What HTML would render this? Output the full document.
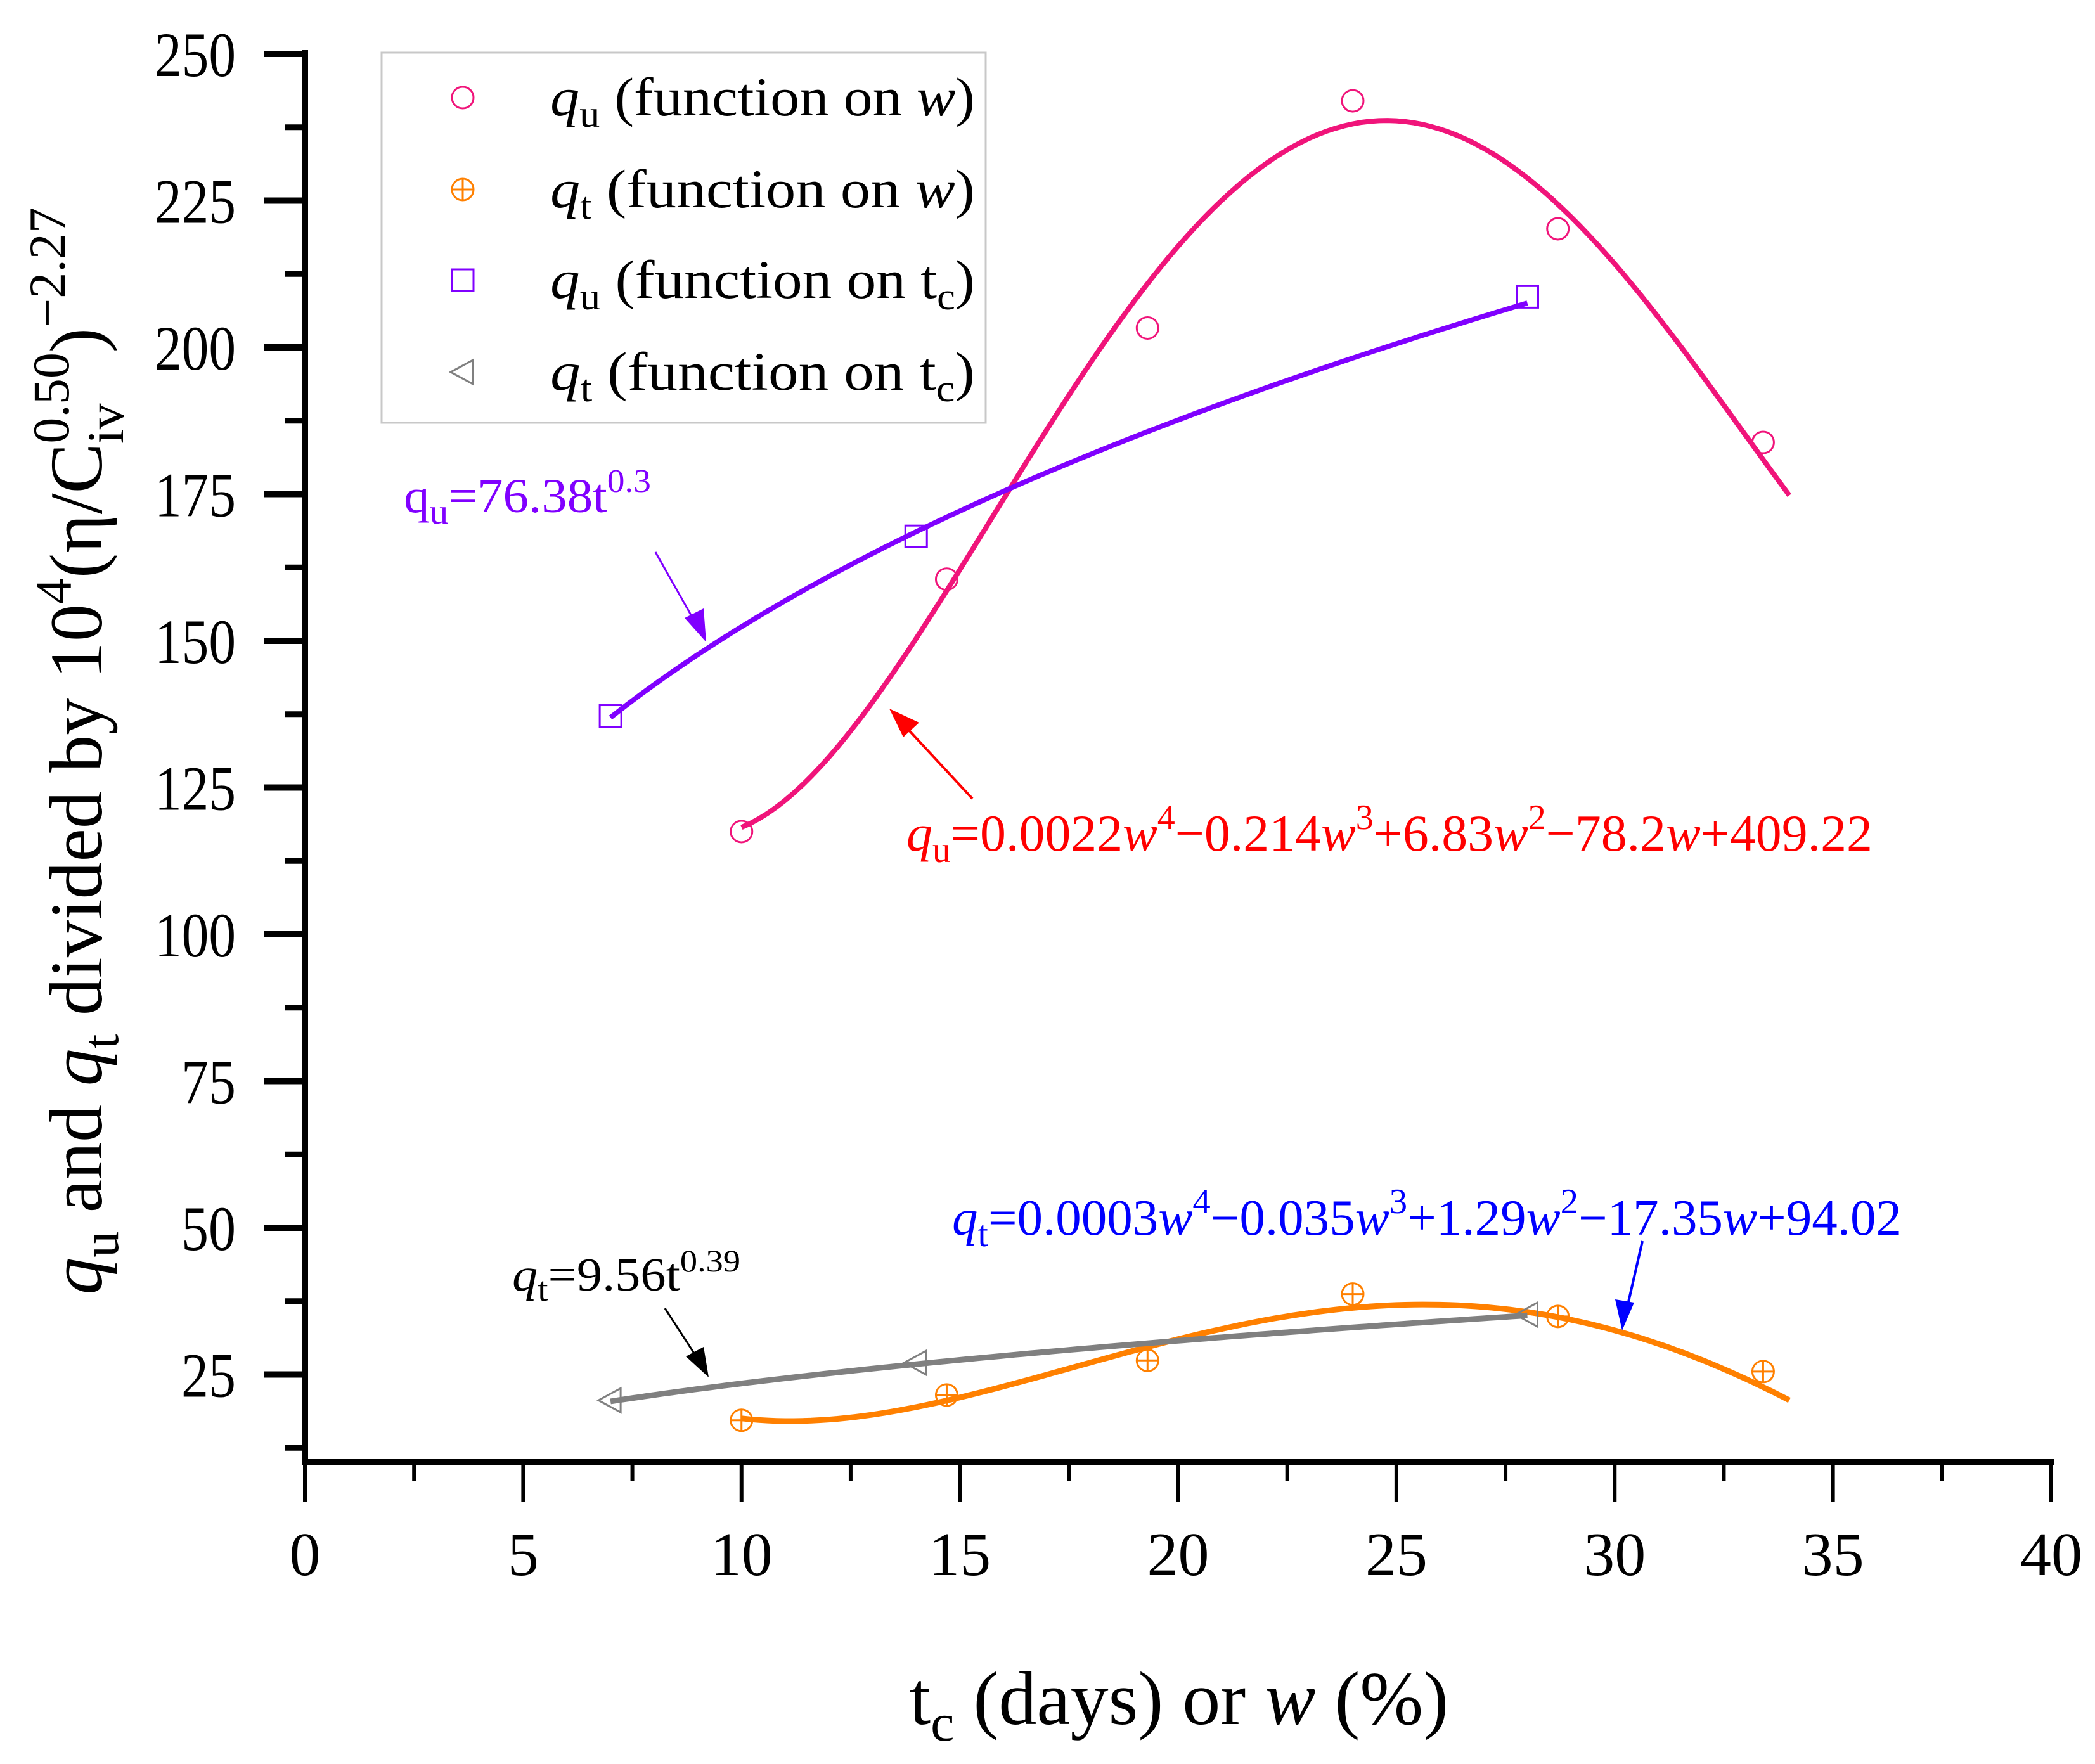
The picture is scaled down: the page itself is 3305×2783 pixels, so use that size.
<!DOCTYPE html>
<html><head><meta charset="utf-8"><style>
html,body{margin:0;padding:0;background:#fff;}
svg{display:block;}
text{font-family:"Liberation Serif",serif;}
</style></head><body>
<svg id="chart" width="3305" height="2783" viewBox="0 0 3305 2783" xmlns="http://www.w3.org/2000/svg">
<g id="axes"></g>
<g id="curves"></g>
<g id="marks"></g>
<g id="legend">
<rect x="602" y="83" width="953" height="584" fill="#fff" stroke="#c8c8c8" stroke-width="3"/>
</g>
<g>
<text x="637" y="808" font-size="76" fill="#8000ff" textLength="390" lengthAdjust="spacingAndGlyphs">q<tspan font-size="56" dy="18">u</tspan><tspan dy="-18">=76.38t</tspan><tspan font-size="52" dy="-32">0.3</tspan></text>
<line x1="1034" y1="871" x2="1104" y2="995" stroke="#8000ff" stroke-width="3"/>
<polygon points="1114,1013 1080,975 1110,960" fill="#8000ff"/>
<text x="1430" y="1342" font-size="82" fill="#ff0000" textLength="1524" lengthAdjust="spacingAndGlyphs"><tspan font-style="italic">q</tspan><tspan font-size="58" dy="18">u</tspan><tspan dy="-18">=0.0022</tspan><tspan font-style="italic">w</tspan><tspan font-size="56" dy="-34">4</tspan><tspan dy="34">−0.214</tspan><tspan font-style="italic">w</tspan><tspan font-size="56" dy="-34">3</tspan><tspan dy="34">+6.83</tspan><tspan font-style="italic">w</tspan><tspan font-size="56" dy="-34">2</tspan><tspan dy="34">−78.2</tspan><tspan font-style="italic">w</tspan><tspan>+409.22</tspan></text>
<line x1="1534" y1="1260" x2="1418" y2="1135" stroke="#ff0000" stroke-width="4"/>
<polygon points="1403,1118 1450,1140 1425,1163" fill="#ff0000"/>
<text x="1502" y="1948" font-size="80" fill="#0000ff" textLength="1498" lengthAdjust="spacingAndGlyphs"><tspan font-style="italic">q</tspan><tspan font-size="58" dy="18">t</tspan><tspan dy="-18">=0.0003</tspan><tspan font-style="italic">w</tspan><tspan font-size="56" dy="-34">4</tspan><tspan dy="34">−0.035</tspan><tspan font-style="italic">w</tspan><tspan font-size="56" dy="-34">3</tspan><tspan dy="34">+1.29</tspan><tspan font-style="italic">w</tspan><tspan font-size="56" dy="-34">2</tspan><tspan dy="34">−17.35</tspan><tspan font-style="italic">w</tspan><tspan>+94.02</tspan></text>
<line x1="2591" y1="1958" x2="2563" y2="2080" stroke="#0000ff" stroke-width="4"/>
<polygon points="2559,2099 2548,2050 2578,2055" fill="#0000ff"/>
<text x="808" y="2036" font-size="74" fill="#000" textLength="360" lengthAdjust="spacingAndGlyphs"><tspan font-style="italic">q</tspan><tspan font-size="54" dy="16">t</tspan><tspan dy="-16">=9.56t</tspan><tspan font-size="50" dy="-30">0.39</tspan></text>
<line x1="1049" y1="2064" x2="1108" y2="2155" stroke="#000" stroke-width="3"/>
<polygon points="1118,2173 1082,2140 1110,2125" fill="#000"/>
</g>
<text transform="translate(160,1185) rotate(-90)" text-anchor="middle" font-size="118" fill="#000"><tspan font-style="italic">q</tspan><tspan font-size="82" dy="26">u</tspan><tspan dy="-26"> and </tspan><tspan font-style="italic">q</tspan><tspan font-size="82" dy="26">t</tspan><tspan dy="-26"> divided by 10</tspan><tspan font-size="82" dy="-48">4</tspan><tspan dy="48">(η/C</tspan><tspan font-size="82" dy="-52">0.50</tspan><tspan font-size="82" dx="-144" dy="86">iv</tspan><tspan dx="80" dy="-34">)</tspan><tspan font-size="82" dy="-58">−2.27</tspan></text>
<text x="1860" y="2720" text-anchor="middle" font-size="120" fill="#000">t<tspan font-size="84" dy="26">c</tspan><tspan dy="-26"> (days) or </tspan><tspan font-style="italic">w</tspan><tspan> (%)</tspan></text>
</svg>
<script>
const NS='http://www.w3.org/2000/svg';
const xTicks=[0,5,10,15,20,25,30,35,40];
const yTicks=[25,50,75,100,125,150,175,200,225,250];
const wValues=[10,14.7,19.3,24.0,28.7,33.4];
const quW=[117.5,160.5,203.3,242,220.2,183.8];
const qtW=[17.2,21.5,27.4,38.7,34.9,25.5];
const tcValues=[7,14,28];
const quTc=[137.2,167.8,208.6];
const qtTc=[20.6,27,35.2];
const quWCoef=[409.22,-78.2,6.83,-0.214,0.0022];
const qtWCoef=[94.02,-17.35,1.29,-0.035,0.0003];
const quTcPow=[76.38,0.3];
const qtTcPow=[9.56,0.39];
const wRange=[10,34];
const tcRange=[7,28];
const legendLabels=[['q','u','function on ',true],['q','t','function on ',true],['q','u','function on t',false],['q','t','function on  t',false]];

const X0=481,X1=3236,XMIN=0,XMAX=40,YTOP=85,YMAX=250,YPER=231.5/25,YBOT=2307;
function sx(v){return X0+(v-XMIN)/(XMAX-XMIN)*(X1-X0);}
function sy(v){return YTOP+(YMAX-v)*YPER;}
function mk(tag,attrs,parent){const e=document.createElementNS(NS,tag);for(const k in attrs)e.setAttribute(k,attrs[k]);parent.appendChild(e);return e;}

const axes=document.getElementById('axes');
let el=mk('line',{x1:X0,y1:YTOP-6,x2:X0,y2:YBOT+5,stroke:'#000','stroke-width':10},axes);


el=mk('line',{x1:X0-5,y1:YBOT,x2:X1+5,y2:YBOT,stroke:'#000','stroke-width':10},axes);


yTicks.forEach(v=>{
  const y=sy(v);
  const t=mk('line',{x1:417,y1:y,x2:X0,y2:y,stroke:'#000','stroke-width':10},axes);
  
  
  const m=mk('line',{x1:450,y1:y+YPER*12.5,x2:X0,y2:y+YPER*12.5,stroke:'#000','stroke-width':9},axes);
  
  
  const lb=mk('text',{x:372,y:y+35,'text-anchor':'end','font-size':100,textLength:128,lengthAdjust:'spacingAndGlyphs'},axes);
  lb.textContent=v;
  if(v<100){lb.setAttribute('textLength',86);}
  
  
});
xTicks.forEach((v,i)=>{
  const x=sx(v);
  const t=mk('line',{x1:x,y1:YBOT,x2:x,y2:2369,stroke:'#000','stroke-width':6},axes);
  
  
  if(i<xTicks.length-1){
    const m=mk('line',{x1:sx(v+2.5),y1:YBOT,x2:sx(v+2.5),y2:2336,stroke:'#000','stroke-width':6},axes);
    
    
  }
  const lb=mk('text',{x:x,y:2485,'text-anchor':'middle','font-size':98},axes);
  lb.textContent=v;
  
  
});

const curves=document.getElementById('curves');
function poly(c,w){let s=0;for(let i=0;i<c.length;i++)s+=c[i]*Math.pow(w,i);return s;}
function curvePath(fn,r){let d='';for(let i=0;i<=120;i++){const v=r[0]+(r[1]-r[0])*i/120;d+=(i?'L':'M')+sx(v).toFixed(1)+','+sy(fn(v)).toFixed(1);}return d;}
el=mk('path',{d:curvePath(w=>poly(quWCoef,w),wRange),fill:'none',stroke:'#f0147a','stroke-width':8},curves);


el=mk('path',{d:curvePath(w=>poly(qtWCoef,w),wRange),fill:'none',stroke:'#ff8000','stroke-width':9},curves);


el=mk('path',{d:curvePath(t=>quTcPow[0]*Math.pow(t,quTcPow[1]),tcRange),fill:'none',stroke:'#8000ff','stroke-width':8},curves);


el=mk('path',{d:curvePath(t=>qtTcPow[0]*Math.pow(t,qtTcPow[1]),tcRange),fill:'none',stroke:'#808080','stroke-width':9},curves);



function circle(g,x,y){return mk('circle',{cx:x,cy:y,r:17,fill:'none',stroke:'#f0147a','stroke-width':3},g);}
function cross(g,x,y){const gg=mk('g',{},g);mk('circle',{cx:x,cy:y,r:17,fill:'none',stroke:'#ff8000','stroke-width':3},gg);mk('path',{d:`M${x-17},${y}H${x+17}M${x},${y-17}V${y+17}`,stroke:'#ff8000','stroke-width':3},gg);return gg;}
function square(g,x,y){return mk('rect',{x:x-17,y:y-17,width:34,height:34,fill:'none',stroke:'#8000ff','stroke-width':3},g);}
function tri(g,x,y){return mk('polygon',{points:`${x-19},${y} ${x+16},${y-19} ${x+16},${y+19}`,fill:'none',stroke:'#808080','stroke-width':3},g);}

const marks=document.getElementById('marks');
wValues.forEach((w,i)=>{
  let p=circle(marks,sx(w),sy(quW[i]));
  
  
  p=cross(marks,sx(w),sy(qtW[i]));
  
  
});
tcValues.forEach((t,i)=>{
  let p=square(marks,sx(t),sy(quTc[i]));
  
  
  p=tri(marks,sx(t),sy(qtTc[i]));
  
  
});

const legend=document.getElementById('legend');
const legY=[154,299,442,587];
const markerFns=[circle,cross,square,tri];
legendLabels.forEach((lab,i)=>{
  const m=markerFns[i](legend,730,legY[i]);
  
  
  const t=mk('text',{x:868,y:legY[i]+28,'font-size':86,textLength:670,lengthAdjust:'spacingAndGlyphs'},legend);
  t.innerHTML=`<tspan font-style="italic">${lab[0]}</tspan><tspan font-size="60" dy="18">${lab[1]}</tspan><tspan dy="-18"> (${lab[2]}</tspan>`+(lab[3]?`<tspan font-style="italic">w</tspan><tspan>)</tspan>`:`<tspan font-size="60" dy="18">c</tspan><tspan dy="-18">)</tspan>`);
  
  
});
</script>
</body></html>
